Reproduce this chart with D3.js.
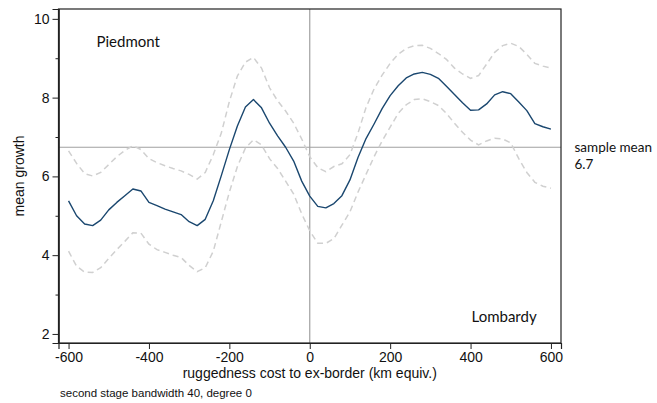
<!DOCTYPE html>
<html>
<head>
<meta charset="utf-8">
<script src="https://cdn.jsdelivr.net/npm/d3@7"></script>
<style>
  html, body { margin: 0; padding: 0; background: #fff; }
  svg { display: block; }
</style>
</head>
<body>
<svg id="chart" width="657" height="403"></svg>
<script>
// Evaluation points along the ruggedness-cost axis (km equiv.)
const costPoints = d3.range(-600, 601, 20);

// Local mean growth estimate
const meanGrowth = [
  5.38, 5.00, 4.79, 4.75, 4.89, 5.15, 5.34, 5.51, 5.68, 5.63,
  5.34, 5.26, 5.17, 5.10, 5.03, 4.85, 4.75, 4.91, 5.38, 6.02,
  6.68, 7.28, 7.76, 7.95, 7.74, 7.35, 7.03, 6.74, 6.39, 5.88,
  5.50, 5.24, 5.20, 5.31, 5.51, 5.91, 6.48, 6.96, 7.33, 7.72,
  8.05, 8.30, 8.50, 8.60, 8.64, 8.59, 8.49, 8.29, 8.08, 7.87,
  7.68, 7.69, 7.84, 8.07, 8.15, 8.10, 7.89, 7.67, 7.34, 7.26,
  7.20
];

// Upper confidence band
const upperBand = [
  6.65, 6.33, 6.07, 6.01, 6.10, 6.30, 6.50, 6.66, 6.78, 6.68,
  6.45, 6.35, 6.27, 6.20, 6.14, 6.05, 5.93, 6.10, 6.55, 7.10,
  7.90, 8.55, 8.90, 9.02, 8.75, 8.25, 7.92, 7.66, 7.35, 6.95,
  6.50, 6.22, 6.12, 6.25, 6.32, 6.55, 7.10, 7.75, 8.22, 8.57,
  8.87, 9.10, 9.25, 9.32, 9.33, 9.25, 9.12, 8.97, 8.75, 8.60,
  8.49, 8.56, 8.85, 9.15, 9.32, 9.38, 9.30, 9.10, 8.87, 8.80,
  8.75
];

// Lower confidence band
const lowerBand = [
  4.10, 3.72, 3.57, 3.56, 3.68, 3.92, 4.14, 4.35, 4.57, 4.56,
  4.28, 4.14, 4.07, 4.00, 3.94, 3.74, 3.58, 3.68, 4.10, 4.85,
  5.60, 6.25, 6.72, 6.93, 6.80, 6.45, 6.20, 5.88, 5.55, 5.05,
  4.62, 4.30, 4.30, 4.42, 4.76, 5.10, 5.60, 6.05, 6.50, 6.90,
  7.25, 7.60, 7.82, 7.95, 7.97, 7.90, 7.80, 7.60, 7.35, 7.12,
  6.92, 6.80, 6.90, 6.97, 6.95, 6.85, 6.45, 6.10, 5.85, 5.75,
  5.70
];

const sampleMean = 6.74;
const xTicks = [-600, -400, -200, 0, 200, 400, 600];
const yTicks = [2, 4, 6, 8, 10];
const yMinorTicks = [3, 5, 7, 9];

const svg = d3.select("#chart");
const margin = { left: 58.5, top: 9, right: 96, bottom: 60 };
const W = 657, H = 403;

const x = d3.scaleLinear().domain([-625, 625]).range([margin.left, W - margin.right]);
const y = d3.scaleLinear().domain([1.77, 10.25]).range([H - margin.bottom, margin.top]);

const axisFont = "Liberation Sans, Arial, Helvetica, sans-serif";
const labelFont = "Lato, 'Open Sans', sans-serif";

// Reference lines: border (x = 0) and sample mean
svg.append("line")
  .attr("x1", x(0)).attr("x2", x(0))
  .attr("y1", y.range()[1]).attr("y2", y.range()[0])
  .attr("stroke", "#a0a0a0").attr("stroke-width", 1.2);
svg.append("line")
  .attr("x1", x.range()[0]).attr("x2", x.range()[1])
  .attr("y1", y(sampleMean)).attr("y2", y(sampleMean))
  .attr("stroke", "#a0a0a0").attr("stroke-width", 1.2);

const line = d3.line().x((d, i) => x(costPoints[i])).y(d => y(d));

// Confidence bands
[upperBand, lowerBand].forEach(band => {
  svg.append("path")
    .datum(band)
    .attr("d", line)
    .attr("fill", "none")
    .attr("stroke", "#d0d0d0")
    .attr("stroke-width", 1.5)
    .attr("stroke-dasharray", "6,4");
});

// Estimate
svg.append("path")
  .datum(meanGrowth)
  .attr("d", line)
  .attr("fill", "none")
  .attr("stroke", "#1a476f")
  .attr("stroke-width", 1.4)
  .attr("stroke-linejoin", "round");

// Plot frame
svg.append("rect")
  .attr("x", x.range()[0]).attr("y", y.range()[1])
  .attr("width", x.range()[1] - x.range()[0])
  .attr("height", y.range()[0] - y.range()[1])
  .attr("fill", "none").attr("stroke", "#222").attr("stroke-width", 1.2);

// Axes (plain hyphen for negative numbers)
const fmt = d => String(d);
const xAxis = svg.append("g")
  .attr("transform", `translate(0,${y.range()[0]})`)
  .call(d3.axisBottom(x).tickValues(xTicks).tickSize(6).tickPadding(3).tickFormat(fmt));
const yAxis = svg.append("g")
  .attr("transform", `translate(${x.range()[0]},0)`)
  .call(d3.axisLeft(y).tickValues(yTicks).tickSize(6).tickPadding(3).tickFormat(fmt));
const yMinor = svg.append("g")
  .attr("transform", `translate(${x.range()[0]},0)`)
  .call(d3.axisLeft(y).tickValues(yMinorTicks).tickSize(3).tickFormat(""));

[xAxis, yAxis, yMinor].forEach(g => {
  g.select(".domain").attr("stroke", "#222").attr("stroke-width", 1.2);
  g.selectAll(".tick line").attr("stroke", "#222").attr("stroke-width", 1);
  g.selectAll(".tick text")
    .attr("fill", "#111")
    .style("font-family", axisFont)
    .style("font-size", "14px");
});

// Axis titles
svg.append("text")
  .attr("x", x(0)).attr("y", 378)
  .attr("text-anchor", "middle")
  .style("font-family", axisFont).style("font-size", "14px").attr("fill", "#111")
  .text("ruggedness cost to ex-border (km equiv.)");

svg.append("text")
  .attr("transform", `translate(24,${(y.range()[0] + y.range()[1]) / 2}) rotate(-90)`)
  .attr("text-anchor", "middle")
  .style("font-family", axisFont).style("font-size", "14px").attr("fill", "#111")
  .text("mean growth");

// Footnote
svg.append("text")
  .attr("x", 60).attr("y", 397)
  .style("font-family", axisFont).style("font-size", "11.5px").attr("fill", "#111")
  .text("second stage bandwidth 40, degree 0");

// Region labels
svg.append("text")
  .attr("x", 96.5).attr("y", 47)
  .style("font-family", labelFont).style("font-size", "15px").attr("fill", "#111")
  .text("Piedmont");
svg.append("text")
  .attr("x", 471.5).attr("y", 322)
  .style("font-family", labelFont).style("font-size", "15px").attr("fill", "#111")
  .text("Lombardy");

// Sample mean label
svg.append("text")
  .attr("x", 574.5).attr("y", 151.5)
  .style("font-family", labelFont).style("font-size", "13.5px").attr("fill", "#111")
  .text("sample mean");
svg.append("text")
  .attr("x", 574.5).attr("y", 168.5)
  .style("font-family", labelFont).style("font-size", "13.5px").attr("fill", "#111")
  .text(d3.format(".1f")(sampleMean));
</script>
</body>
</html>
